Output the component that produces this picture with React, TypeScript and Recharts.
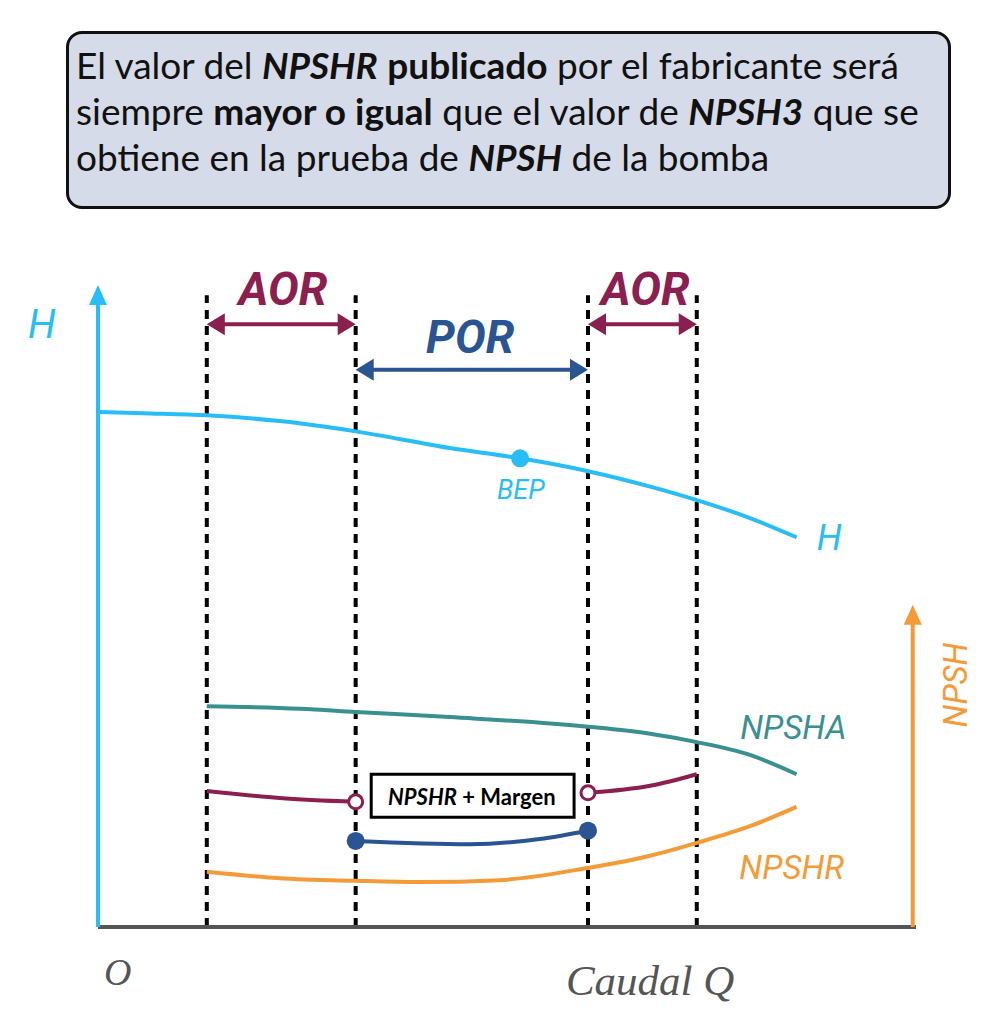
import React from 'react';
import { ComposedChart, Line, XAxis, YAxis, ReferenceLine, ReferenceDot, ReferenceArea } from 'recharts';

// Q = caudal (0..100 % of axis), v = head / NPSH (0..100 % of left axis)
const hCurve = [
  { q: 0, v: 80.2 }, { q: 6.4, v: 80.0 }, { q: 13.3, v: 79.7 }, { q: 22.2, v: 78.8 },
  { q: 31.5, v: 77.2 }, { q: 43.0, v: 74.6 }, { q: 51.6, v: 73.0 }, { q: 59.9, v: 71.0 },
  { q: 67.5, v: 68.6 }, { q: 73.2, v: 66.5 }, { q: 79.7, v: 63.7 }, { q: 85.4, v: 60.7 },
];
const npshaCurve = [
  { q: 13.3, v: 34.4 }, { q: 24.7, v: 34.0 }, { q: 31.5, v: 33.5 }, { q: 43.0, v: 32.7 },
  { q: 59.9, v: 31.2 }, { q: 67.5, v: 30.1 }, { q: 73.2, v: 28.8 }, { q: 79.7, v: 26.8 },
  { q: 85.4, v: 23.8 },
];
const npshrCurve = [
  { q: 13.3, v: 8.6 }, { q: 22.2, v: 7.6 }, { q: 31.5, v: 7.2 }, { q: 39.4, v: 7.0 },
  { q: 49.1, v: 7.3 }, { q: 59.9, v: 9.2 }, { q: 67.5, v: 11.1 }, { q: 73.2, v: 13.1 },
  { q: 79.7, v: 15.7 }, { q: 85.4, v: 18.7 },
];
const marginLeft = [{ q: 13.3, v: 21.2 }, { q: 22.2, v: 20.1 }, { q: 31.5, v: 19.5 }];
const marginRight = [{ q: 59.9, v: 20.9 }, { q: 67.5, v: 22.0 }, { q: 73.2, v: 23.8 }];
const npsh3Por = [{ q: 31.5, v: 13.4 }, { q: 45.5, v: 12.9 }, { q: 54.0, v: 13.7 }, { q: 59.9, v: 15.0 }];
const bep = { q: 51.6, v: 73.0 };

// region limits on the Q axis
const aorStart = 13.3;
const porStart = 31.5;
const porEnd = 59.9;
const aorEnd = 73.2;
const regionLines = [aorStart, porStart, porEnd, aorEnd];

const H_COL = '#29BDF5';
const AOR_COL = '#8B2050';
const POR_COL = '#2A5592';
const NPSHA_COL = '#3A9090';
const NPSHR_COL = '#F29B38';

const doubleArrow = (color: string) => (p: any) => {
  const { x1, y1, x2, y2 } = p;
  const h = 18, w = 11;
  return (
    <g>
      <line x1={x1 + h - 2} y1={y1} x2={x2 - h + 2} y2={y2} stroke={color} strokeWidth={4} />
      <polygon points={`${x1},${y1} ${x1 + h},${y1 - w} ${x1 + h},${y1 + w}`} fill={color} />
      <polygon points={`${x2},${y2} ${x2 - h},${y2 - w} ${x2 - h},${y2 + w}`} fill={color} />
    </g>
  );
};

const upArrow = (color: string) => (p: any) => {
  const { x1, y1, x2, y2 } = p;
  const h = 20, w = 9;
  return (
    <g>
      <line x1={x1} y1={y1} x2={x2} y2={y2 + h - 2} stroke={color} strokeWidth={4} />
      <polygon points={`${x2},${y2} ${x2 - w},${y2 + h} ${x2 + w},${y2 + h}`} fill={color} />
    </g>
  );
};

const textAt = (txt: React.ReactNode, style: any, rotate = 0) => (p: any) => (
  <text
    x={p.cx}
    y={p.cy}
    textAnchor="middle"
    dominantBaseline="central"
    transform={rotate ? `rotate(${rotate} ${p.cx} ${p.cy})` : undefined}
    style={style}
  >
    {txt}
  </text>
);

const sans = { fontFamily: 'Roboto', fontStyle: 'italic' };

export default function App() {
  return (
    <div style={{ position: 'absolute', left: 0, top: 0, width: 994, height: 1024, background: '#fff' }}>
      <div
        style={{
          position: 'absolute', left: 66, top: 31, width: 872, height: 164,
          border: '3px solid #111', borderRadius: 16, background: '#D5DBE8',
          fontFamily: 'Lato', fontSize: 37, lineHeight: '46px', color: '#111',
          padding: '8px 0 0 7px', boxSizing: 'content-box', zIndex: 2, whiteSpace: 'nowrap',
        }}
      >
        El valor del <b><i>NPSHR</i></b> <b>publicado</b> por el fabricante será<br />
        siempre <b>mayor o igual</b> que el valor de <b><i>NPSH3</i></b> que se<br />
        obtiene en la prueba de <b><i>NPSH</i></b> de la bomba
      </div>
      <ComposedChart width={994} height={1024} margin={{ top: 285, right: 78, bottom: 97, left: 98 }}>
        <XAxis type="number" dataKey="q" domain={[0, 100]} hide />
        <YAxis type="number" dataKey="v" domain={[0, 100]} hide />

        {regionLines.map((q) => (
          <ReferenceLine key={q} segment={[{ x: q, y: 0 }, { x: q, y: 98.4 }]} stroke="#000" strokeWidth={4} strokeDasharray="9 7" />
        ))}

        <ReferenceLine segment={[{ x: 0, y: 0 }, { x: 100, y: 0 }]} stroke="#555" strokeWidth={4} />
        <ReferenceLine segment={[{ x: 0, y: 0 }, { x: 0, y: 100 }]} shape={upArrow(H_COL)} />
        <ReferenceLine segment={[{ x: 99.6, y: 0 }, { x: 99.6, y: 50.2 }]} shape={upArrow(NPSHR_COL)} />

        <ReferenceLine segment={[{ x: aorStart, y: 93.9 }, { x: porStart, y: 93.9 }]} shape={doubleArrow(AOR_COL)} />
        <ReferenceLine segment={[{ x: porStart, y: 86.8 }, { x: porEnd, y: 86.8 }]} shape={doubleArrow(POR_COL)} />
        <ReferenceLine segment={[{ x: porEnd, y: 93.9 }, { x: aorEnd, y: 93.9 }]} shape={doubleArrow(AOR_COL)} />

        <Line data={hCurve} dataKey="v" type="monotone" stroke={H_COL} strokeWidth={4} dot={false} isAnimationActive={false} />
        <Line data={npshaCurve} dataKey="v" type="monotone" stroke={NPSHA_COL} strokeWidth={4} dot={false} isAnimationActive={false} />
        <Line data={npshrCurve} dataKey="v" type="monotone" stroke={NPSHR_COL} strokeWidth={4} dot={false} isAnimationActive={false} />
        <Line data={marginLeft} dataKey="v" type="monotone" stroke={AOR_COL} strokeWidth={4} dot={false} isAnimationActive={false} />
        <Line data={marginRight} dataKey="v" type="monotone" stroke={AOR_COL} strokeWidth={4} dot={false} isAnimationActive={false} />
        <Line data={npsh3Por} dataKey="v" type="monotone" stroke={POR_COL} strokeWidth={4} dot={false} isAnimationActive={false} />

        <ReferenceDot x={bep.q} y={bep.v} r={9} fill={H_COL} stroke="none" />
        <ReferenceDot x={marginLeft[marginLeft.length - 1].q} y={marginLeft[marginLeft.length - 1].v} r={7} fill="#fff" stroke={AOR_COL} strokeWidth={3} />
        <ReferenceDot x={marginRight[0].q} y={marginRight[0].v} r={7} fill="#fff" stroke={AOR_COL} strokeWidth={3} />
        <ReferenceDot x={npsh3Por[0].q} y={npsh3Por[0].v} r={9} fill={POR_COL} stroke="none" />
        <ReferenceDot x={npsh3Por[npsh3Por.length - 1].q} y={npsh3Por[npsh3Por.length - 1].v} r={9} fill={POR_COL} stroke="none" />

        <ReferenceArea x1={33.4} x2={58.2} y1={17.1} y2={23.8} fill="#fff" fillOpacity={1} stroke="#000" strokeWidth={3} />
        <ReferenceDot x={45.7} y={20.4} shape={textAt(<><tspan fontStyle="italic">NPSHR</tspan> + Margen</>, { fontFamily: 'Lato', fontWeight: 700, fontSize: 22, fill: '#000' })} />

        <ReferenceDot x={22.6} y={99.3} ifOverflow="visible" shape={textAt('AOR', { ...sans, fontWeight: 700, fontSize: 46, fill: AOR_COL })} />
        <ReferenceDot x={66.9} y={99.3} ifOverflow="visible" shape={textAt('AOR', { ...sans, fontWeight: 700, fontSize: 46, fill: AOR_COL })} />
        <ReferenceDot x={45.5} y={91.9} ifOverflow="visible" shape={textAt('POR', { ...sans, fontWeight: 700, fontSize: 46, fill: POR_COL })} />
        <ReferenceDot x={-6.85} y={93.8} ifOverflow="visible" shape={textAt('H', { ...sans, fontSize: 40, fill: H_COL })} />
        <ReferenceDot x={51.7} y={68.1} ifOverflow="visible" shape={textAt('BEP', { ...sans, fontSize: 27, fill: H_COL })} />
        <ReferenceDot x={89.4} y={60.6} ifOverflow="visible" shape={textAt('H', { ...sans, fontSize: 36, fill: H_COL })} />
        <ReferenceDot x={85.0} y={31.0} ifOverflow="visible" shape={textAt('NPSHA', { ...sans, fontSize: 33, fill: NPSHA_COL })} />
        <ReferenceDot x={84.8} y={9.3} ifOverflow="visible" shape={textAt('NPSHR', { ...sans, fontSize: 33, fill: NPSHR_COL })} />
        <ReferenceDot x={104.8} y={37.7} ifOverflow="visible" shape={textAt('NPSH', { ...sans, fontSize: 33, fill: NPSHR_COL }, -90)} />
        <ReferenceDot x={2.4} y={-7.0} ifOverflow="visible" shape={textAt('O', { fontFamily: 'Liberation Serif', fontStyle: 'italic', fontSize: 38, fill: '#555' })} />
        <ReferenceDot x={67.5} y={-8.3} ifOverflow="visible" shape={textAt('Caudal Q', { fontFamily: 'Liberation Serif', fontStyle: 'italic', fontSize: 43, fill: '#555' })} />
      </ComposedChart>
    </div>
  );
}
